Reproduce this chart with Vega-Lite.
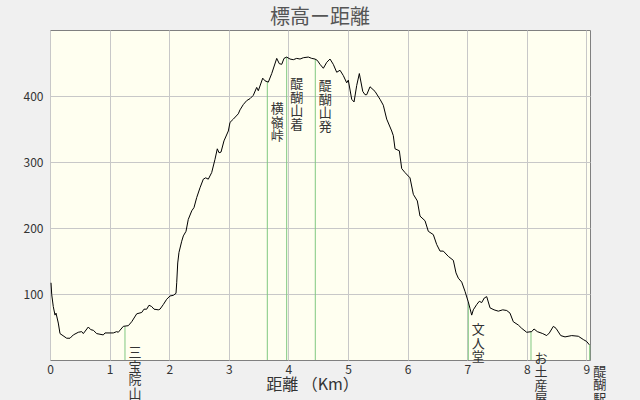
{
  "$schema": "https://vega.github.io/schema/vega-lite/v6.json",
  "width": 540,
  "height": 330,
  "autosize": "none",
  "padding": {"left": 50, "top": 30, "right": 50, "bottom": 40},
  "background": "#f0f0f0",
  "title": {"text": "標高ー距離", "fontSize": 20, "fontWeight": "normal", "color": "#555555", "anchor": "middle", "offset": 2},
  "config": {
    "font": "Noto Sans CJK JP",
    "view": {"fill": "#fffff0", "stroke": "#808080", "strokeWidth": 1}
  },
  "datasets": {
    "profile": [
      {"d":0.017,"h":117},{"d":0.029,"h":99},{"d":0.055,"h":81},{"d":0.084,"h":68},{"d":0.101,"h":71},
      {"d":0.139,"h":56},{"d":0.168,"h":40},{"d":0.280,"h":33},{"d":0.336,"h":33},{"d":0.391,"h":38},
      {"d":0.475,"h":42},{"d":0.532,"h":43},{"d":0.559,"h":40},{"d":0.643,"h":50},{"d":0.683,"h":46},
      {"d":0.727,"h":45},{"d":0.784,"h":40},{"d":0.894,"h":38},{"d":0.923,"h":41},{"d":1.062,"h":41},
      {"d":1.119,"h":43},{"d":1.146,"h":42},{"d":1.230,"h":51},{"d":1.314,"h":52},{"d":1.371,"h":58},
      {"d":1.455,"h":70},{"d":1.539,"h":72},{"d":1.577,"h":77},{"d":1.622,"h":77},{"d":1.661,"h":83},
      {"d":1.706,"h":81},{"d":1.745,"h":77},{"d":1.817,"h":76},{"d":1.846,"h":77},{"d":1.901,"h":84},
      {"d":1.958,"h":92},{"d":2.013,"h":97},{"d":2.069,"h":98},{"d":2.114,"h":101},{"d":2.126,"h":117},
      {"d":2.143,"h":147},{"d":2.164,"h":163},{"d":2.210,"h":180},{"d":2.237,"h":188},{"d":2.282,"h":195},
      {"d":2.320,"h":213},{"d":2.378,"h":226},{"d":2.416,"h":231},{"d":2.461,"h":246},{"d":2.517,"h":261},
      {"d":2.572,"h":274},{"d":2.612,"h":276},{"d":2.656,"h":274},{"d":2.713,"h":284},{"d":2.768,"h":304},
      {"d":2.807,"h":320},{"d":2.836,"h":314},{"d":2.869,"h":315},{"d":2.919,"h":332},{"d":2.992,"h":347},
      {"d":3.020,"h":360},{"d":3.076,"h":365},{"d":3.159,"h":373},{"d":3.188,"h":379},{"d":3.243,"h":387},
      {"d":3.300,"h":393},{"d":3.356,"h":396},{"d":3.411,"h":401},{"d":3.468,"h":413},{"d":3.495,"h":408},
      {"d":3.569,"h":427},{"d":3.607,"h":423},{"d":3.663,"h":421},{"d":3.720,"h":434},{"d":3.804,"h":457},
      {"d":3.847,"h":449},{"d":3.888,"h":448},{"d":3.926,"h":457},{"d":3.971,"h":459},{"d":4.027,"h":456},
      {"d":4.082,"h":455},{"d":4.139,"h":457},{"d":4.195,"h":456},{"d":4.250,"h":458},{"d":4.334,"h":459},
      {"d":4.391,"h":457},{"d":4.446,"h":456},{"d":4.485,"h":454},{"d":4.530,"h":448},{"d":4.586,"h":442},
      {"d":4.643,"h":451},{"d":4.698,"h":456},{"d":4.753,"h":448},{"d":4.810,"h":436},{"d":4.866,"h":439},
      {"d":4.921,"h":431},{"d":4.978,"h":420},{"d":5.005,"h":424},{"d":5.062,"h":395},{"d":5.101,"h":391},
      {"d":5.146,"h":416},{"d":5.190,"h":434},{"d":5.247,"h":407},{"d":5.285,"h":402},{"d":5.314,"h":402},
      {"d":5.369,"h":414},{"d":5.453,"h":407},{"d":5.537,"h":395},{"d":5.592,"h":386},{"d":5.649,"h":365},
      {"d":5.733,"h":347},{"d":5.760,"h":340},{"d":5.789,"h":320},{"d":5.861,"h":317},{"d":5.901,"h":290},
      {"d":5.956,"h":284},{"d":6.040,"h":276},{"d":6.096,"h":251},{"d":6.163,"h":241},{"d":6.208,"h":218},
      {"d":6.292,"h":211},{"d":6.347,"h":195},{"d":6.431,"h":190},{"d":6.488,"h":175},{"d":6.544,"h":165},
      {"d":6.599,"h":165},{"d":6.683,"h":157},{"d":6.767,"h":151},{"d":6.812,"h":132},{"d":6.851,"h":124},
      {"d":6.908,"h":118},{"d":6.963,"h":104},{"d":7.018,"h":88},{"d":7.047,"h":78},{"d":7.075,"h":68},
      {"d":7.102,"h":76},{"d":7.159,"h":84},{"d":7.203,"h":89},{"d":7.243,"h":87},{"d":7.287,"h":94},
      {"d":7.327,"h":96},{"d":7.383,"h":79},{"d":7.450,"h":76},{"d":7.522,"h":74},{"d":7.596,"h":76},
      {"d":7.663,"h":75},{"d":7.718,"h":71},{"d":7.773,"h":58},{"d":7.857,"h":53},{"d":7.914,"h":48},
      {"d":7.998,"h":42},{"d":8.082,"h":43},{"d":8.121,"h":47},{"d":8.176,"h":43},{"d":8.267,"h":40},
      {"d":8.334,"h":37},{"d":8.378,"h":41},{"d":8.445,"h":51},{"d":8.490,"h":48},{"d":8.569,"h":37},
      {"d":8.641,"h":35},{"d":8.753,"h":37},{"d":8.864,"h":36},{"d":8.948,"h":31},{"d":9.005,"h":28},
      {"d":9.049,"h":23}
    ],
    "marks": [
      {"d":1.258,"h":51,"label":"三宝院山"},
      {"d":3.646,"h":421,"label":"横嶺峠"},
      {"d":3.971,"h":459,"label":"醍醐山着"},
      {"d":4.451,"h":456,"label":"醍醐山発"},
      {"d":7.018,"h":86,"label":"文人堂"},
      {"d":8.070,"h":43,"label":"お土産屋"},
      {"d":9.055,"h":23,"label":"醍醐駅"}
    ]
  },
  "encoding": {
    "x": {
      "field": "d", "type": "quantitative",
      "scale": {"domain": [0, 9.06], "nice": false, "zero": false},
      "axis": {
        "values": [0,1,2,3,4,5,6,7,8,9], "format": "d", "labelFlush": false,
        "title": "距離 （Km）", "titleFontSize": 16, "titleFontWeight": "normal", "titleColor": "#333333",
        "titleX": 262, "titleY": 24, "titleBaseline": "middle",
        "labelFontSize": 12, "labelColor": "#333333", "labelPadding": 4,
        "ticks": false, "domain": false, "grid": true, "gridColor": "#c8c8c8", "gridOpacity": 1
      }
    },
    "y": {
      "field": "h", "type": "quantitative",
      "scale": {"domain": [0, 500], "nice": false},
      "axis": {
        "values": [100,200,300,400], "title": null,
        "labelFontSize": 12, "labelColor": "#333333", "labelPadding": 7,
        "ticks": false, "domain": false, "grid": true, "gridColor": "#c8c8c8", "gridOpacity": 1
      }
    }
  },
  "layer": [
    {
      "data": {"name": "marks"},
      "mark": {"type": "rule", "color": "#80c880", "strokeWidth": 1},
      "encoding": {
        "y": {"datum": 0, "type": "quantitative"},
        "y2": {"field": "h"}
      }
    },
    {
      "data": {"name": "profile"},
      "mark": {"type": "line", "color": "#000000", "strokeWidth": 1}
    },
    {
      "data": {"name": "marks"},
      "transform": [{"calculate": "split(datum.label, '')", "as": "chars"}],
      "mark": {"type": "text", "align": "center", "baseline": "top", "dx": 10, "dy": 21, "fontSize": 13, "lineHeight": 13.5, "color": "#333333"},
      "encoding": {"text": {"field": "chars"}}
    }
  ]
}
